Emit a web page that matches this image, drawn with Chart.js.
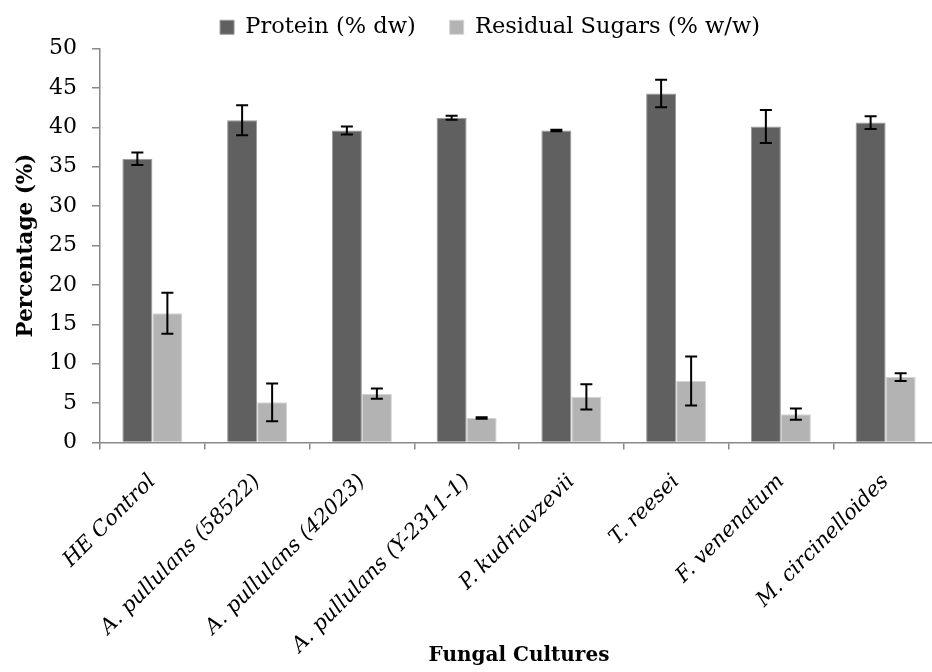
<!DOCTYPE html>
<html>
<head>
<meta charset="utf-8">
<script src="https://cdn.jsdelivr.net/npm/chart.js@4.4.1/dist/chart.umd.min.js"></script>
<style>
  html, body { margin: 0; padding: 0; background: #fff; overflow: hidden; }
  .chart-box { width: 940px; height: 672px; }
</style>
</head>
<body>
<div class="chart-box"><canvas id="cultureChart"></canvas></div>
<script>
/* Data */
const cultures = ['HE Control', 'A. pullulans (58522)', 'A. pullulans (42023)', 'A. pullulans (Y-2311-1)',
  'P. kudriavzevii', 'T. reesei', 'F. venenatum', 'M. circinelloides'];
const proteinValues = [36.0, 40.9, 39.6, 41.2, 39.6, 44.3, 40.1, 40.6];
const proteinErrors = [0.8, 1.9, 0.5, 0.25, 0.1, 1.75, 2.1, 0.8];
const sugarValues = [16.4, 5.1, 6.2, 3.1, 5.8, 7.8, 3.6, 8.3];
const sugarErrors = [2.6, 2.4, 0.65, 0.1, 1.6, 3.1, 0.7, 0.5];
const yMin = 0;
const yMax = 50;
const yStep = 5;

const serif = 'DejaVu Serif';
const axisGray = '#888888';

/* Error bars drawn through the y scale */
const errorBars = {
  id: 'errorBars',
  afterDatasetsDraw(chart) {
    const { ctx } = chart;
    const y = chart.scales.y;
    ctx.save();
    ctx.strokeStyle = '#000';
    ctx.lineWidth = 2;
    chart.data.datasets.forEach((ds, i) => {
      const meta = chart.getDatasetMeta(i);
      meta.data.forEach((bar, j) => {
        const v = ds.data[j];
        const e = ds.errors[j];
        const top = y.getPixelForValue(v + e);
        const bot = y.getPixelForValue(v - e);
        const x = bar.x;
        ctx.beginPath();
        ctx.moveTo(x, top); ctx.lineTo(x, bot);
        ctx.moveTo(x - 6, top); ctx.lineTo(x + 6, top);
        ctx.moveTo(x - 6, bot); ctx.lineTo(x + 6, bot);
        ctx.stroke();
      });
    });
    ctx.restore();
  },
};

/* nudge the legend a little to the right, like the original */
const legendShift = {
  id: 'legendShift',
  afterLayout(chart) {
    chart.legend.left += 14;
    chart.legend.right += 14;
  },
};

const ctx = document.getElementById('cultureChart').getContext('2d');
const cultureChart = new Chart(ctx, {
  type: 'bar',
  data: {
    labels: cultures,
    datasets: [
      {
        label: 'Protein (% dw)',
        data: proteinValues,
        errors: proteinErrors,
        backgroundColor: '#606060',
        borderColor: '#9a9a9a',
        borderWidth: 1,
      },
      {
        label: 'Residual Sugars (% w/w)',
        data: sugarValues,
        errors: sugarErrors,
        backgroundColor: '#b3b3b3',
        borderColor: '#d4d4d4',
        borderWidth: 1,
      },
    ],
  },
  options: {
    responsive: true,
    maintainAspectRatio: false,
    animation: false,
    layout: { padding: { top: -18, left: 14, right: 2, bottom: 0 } },
    datasets: { bar: { categoryPercentage: 0.573, barPercentage: 1.0 } },
    plugins: {
      legend: {
        display: true,
        position: 'top',
        labels: {
          boxWidth: 14,
          boxHeight: 14,
          padding: 34,
          color: '#000',
          font: { family: serif, size: 22.5 },
        },
      },
      tooltip: { enabled: false },
    },
    scales: {
      x: {
        afterFit: (s) => { s.height = 229.5; },
        border: { color: axisGray, width: 1.5 },
        grid: { display: true, drawOnChartArea: false, drawTicks: true, tickLength: 7, color: axisGray, lineWidth: 1.5 },
        ticks: {
          minRotation: 45,
          maxRotation: 45,
          autoSkip: false,
          padding: 20,
          color: '#000',
          font: { family: serif, size: 21, style: 'italic' },
        },
        title: {
          display: true,
          text: 'Fungal Cultures',
          color: '#000',
          font: { family: serif, size: 20, weight: 'bold' },
        },
      },
      y: {
        min: yMin,
        max: yMax,
        afterFit: (s) => { s.width = 86; },
        border: { color: axisGray, width: 1.5 },
        grid: { display: true, drawOnChartArea: false, drawTicks: true, tickLength: 8, color: axisGray, lineWidth: 1.5 },
        ticks: {
          stepSize: yStep,
          padding: 15,
          color: '#000',
          font: { family: serif, size: 22 },
        },
        title: {
          display: true,
          text: 'Percentage (%)',
          color: '#000',
          padding: { top: 0, bottom: 4 },
          font: { family: serif, size: 21.5, weight: 'bold' },
        },
      },
    },
  },
  plugins: [errorBars, legendShift],
});
</script>
</body>
</html>
